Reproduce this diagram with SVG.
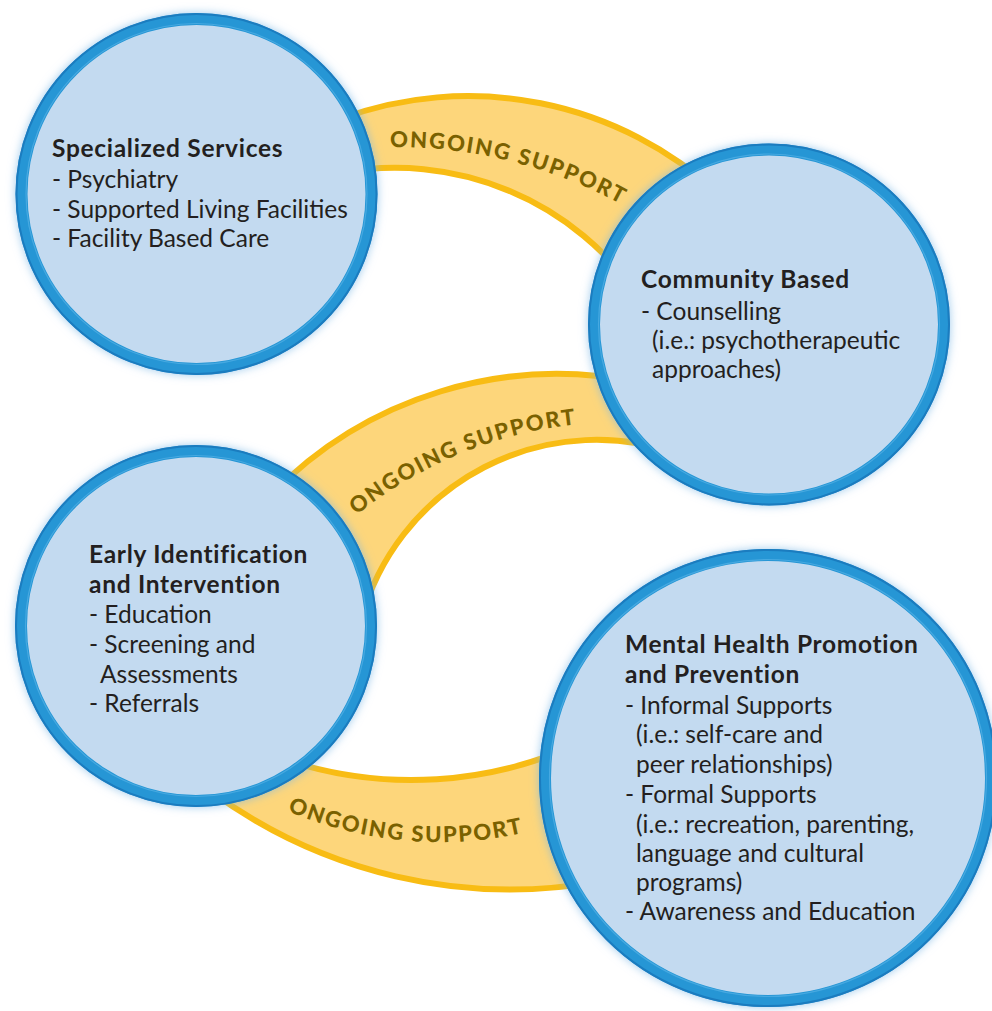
<svg xmlns="http://www.w3.org/2000/svg" width="992" height="1011" viewBox="0 0 992 1011">
<defs>
<style>
.band{fill:#FDD67B;stroke:#F8BC14;stroke-width:6;stroke-linejoin:round}
.bandtxt{font-family:Lato,"Open Sans",sans-serif;font-weight:900;font-size:22px;letter-spacing:1.8px;fill:#7A6100}
.ring{fill:#C3DAF0;stroke:#2596D5;stroke-width:12}
.edge{fill:none;stroke:#1B7CBF;stroke-width:2}
.hl{fill:none;stroke:#4FAEE3;stroke-width:1.2;opacity:0.8}
.t{font-family:Lato,"Open Sans",sans-serif;font-size:24.5px;fill:#231F20}
.b{font-weight:bold;letter-spacing:0.7px}
</style>
<filter id="glow" x="-15%" y="-15%" width="130%" height="130%">
<feDropShadow dx="0" dy="0" stdDeviation="5" flood-color="#7DB8E6" flood-opacity="0.75"/>
</filter>
<path id="tp1" d="M 380,147.2 A 477 477 0 0 1 680,242"/>
<path id="tp2" d="M 345,524.6 A 426.4 426.4 0 0 1 640,422"/>
<path id="tp3" d="M 270,802.9 A 385.2 385.2 0 0 0 580,815.5"/>
</defs>
<rect width="992" height="1011" fill="#FFFFFF"/>
<g id="connectors">
<path class="band" d="M 340,119 A 370 370 0 0 1 720,195 L 640,298 A 296 296 0 0 0 340,173 Z"/>
<path class="band" d="M 270,496 A 399 399 0 0 1 640,382.7 L 680,454.6 A 244 244 0 0 0 361,620 Z"/>
<path class="band" d="M 290,761.2 A 401.3 401.3 0 0 0 580,743 L 600,881.4 A 504.5 504.5 0 0 1 210,790.6 Z"/>
<text class="bandtxt"><textPath href="#tp1" startOffset="10">ONGOING SUPPORT</textPath></text>
<text class="bandtxt"><textPath href="#tp2" startOffset="15">ONGOING SUPPORT</textPath></text>
<text class="bandtxt"><textPath href="#tp3" startOffset="19">ONGOING SUPPORT</textPath></text>
</g>
<g id="specialized-services">
<circle class="ring" cx="196.5" cy="194" r="175" filter="url(#glow)"/>
<circle class="edge" cx="196.5" cy="194" r="180"/>
<circle class="hl" cx="196.5" cy="194" r="170.5"/>
<text class="t b" x="52" y="157">Specialized Services</text>
<text class="t" x="52" y="188">- Psychiatry</text>
<text class="t" x="52" y="218">- Supported Living Facilities</text>
<text class="t" x="52" y="247">- Facility Based Care</text>
</g>
<g id="community-based">
<circle class="ring" cx="769" cy="324.5" r="175" filter="url(#glow)"/>
<circle class="edge" cx="769" cy="324.5" r="180"/>
<circle class="hl" cx="769" cy="324.5" r="170.5"/>
<text class="t b" x="641" y="288">Community Based</text>
<text class="t" x="641" y="320">- Counselling</text>
<text class="t" x="652" y="349">(i.e.: psychotherapeutic</text>
<text class="t" x="652" y="378">approaches)</text>
</g>
<g id="early-identification">
<circle class="ring" cx="196" cy="626" r="175" filter="url(#glow)"/>
<circle class="edge" cx="196" cy="626" r="180"/>
<circle class="hl" cx="196" cy="626" r="170.5"/>
<text class="t b" x="89" y="563">Early Identification</text>
<text class="t b" x="89" y="593">and Intervention</text>
<text class="t" x="89" y="623">- Education</text>
<text class="t" x="89" y="653">- Screening and</text>
<text class="t" x="100" y="683">Assessments</text>
<text class="t" x="89" y="712">- Referrals</text>
</g>
<g id="mental-health-promotion">
<circle class="ring" cx="768" cy="778" r="223" filter="url(#glow)"/>
<circle class="edge" cx="768" cy="778" r="228"/>
<circle class="hl" cx="768" cy="778" r="218.5"/>
<text class="t b" x="625" y="653">Mental Health Promotion</text>
<text class="t b" x="625" y="683">and Prevention</text>
<text class="t" x="625" y="714">- Informal Supports</text>
<text class="t" x="636" y="743">(i.e.: self-care and</text>
<text class="t" x="636" y="773">peer relationships)</text>
<text class="t" x="625" y="803">- Formal Supports</text>
<text class="t" x="636" y="833">(i.e.: recreation, parenting,</text>
<text class="t" x="636" y="862">language and cultural</text>
<text class="t" x="636" y="891">programs)</text>
<text class="t" x="625" y="920">- Awareness and Education</text>
</g>
</svg>
